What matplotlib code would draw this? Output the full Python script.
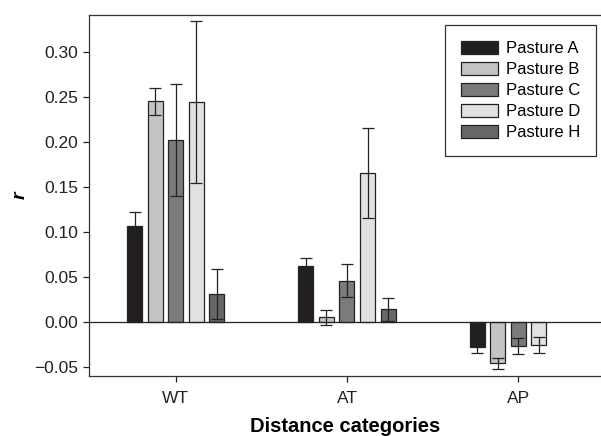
import matplotlib
matplotlib.use('Agg')
import matplotlib.pyplot as plt
import numpy as np

plt.rcParams['font.family'] = ['Liberation Sans', 'DejaVu Sans']

categories = ['WT', 'AT', 'AP']
pastures = ['Pasture A', 'Pasture B', 'Pasture C', 'Pasture D', 'Pasture H']
colors = ['#231f20', '#c4c4c4', '#7a7b7d', '#e0e1e2', '#666668']

# mean r per pasture, for WT / AT / AP (nan = no bar)
means = {
    'Pasture A': [0.107, 0.062, -0.028],
    'Pasture B': [0.245, 0.005, -0.046],
    'Pasture C': [0.202, 0.046, -0.027],
    'Pasture D': [0.244, 0.166, -0.026],
    'Pasture H': [0.031, 0.014, np.nan],
}
errors = {
    'Pasture A': [0.015, 0.009, 0.006],
    'Pasture B': [0.015, 0.008, 0.0065],
    'Pasture C': [0.062, 0.018, 0.009],
    'Pasture D': [0.090, 0.050, 0.009],
    'Pasture H': [0.028, 0.013, np.nan],
}

fig = plt.figure(figsize=(6.01, 4.36), dpi=100)
ax = fig.add_axes([89 / 601, 1 - 376 / 436, 1 - 89 / 601, (376 - 15) / 436])

x = np.arange(len(categories))
pitch = 0.12
width = 0.0875
for i, p in enumerate(pastures):
    xs = x + (i - 2) * pitch
    ax.bar(xs, means[p], width=width, color=colors[i], edgecolor='#222222',
           linewidth=0.9, label=p, zorder=2)
    ax.errorbar(xs, means[p], yerr=errors[p], fmt='none', ecolor='#222222',
                elinewidth=0.9, capsize=4, capthick=0.9, zorder=3)

ax.axhline(0, color='#222222', linewidth=0.9, zorder=4)

ax.set_xlim(-0.506, 2.483)
ax.set_ylim(-0.06, 0.341)
ax.set_yticks([-0.05, 0, 0.05, 0.10, 0.15, 0.20, 0.25, 0.30])
ax.set_yticklabels(['\u22120.05', '0.00', '0.05', '0.10', '0.15', '0.20', '0.25', '0.30'])
ax.set_xticks(x)
ax.set_xticklabels(categories)
ax.tick_params(axis='both', labelsize=12.5, colors='#222222', length=4, width=0.9)
ax.tick_params(axis='x', pad=7)

for s in ['left', 'bottom', 'top']:
    ax.spines[s].set_color('#333333')
    ax.spines[s].set_linewidth(0.9)
ax.spines['right'].set_visible(False)

ax.set_xlabel('Distance categories', fontsize=14.5, fontweight='bold', labelpad=8)
ax.set_ylabel('r', fontsize=14, fontweight='bold', style='italic', labelpad=4)

leg = ax.legend(loc='upper right', bbox_to_anchor=(596 / 601, 1 - 25 / 436),
                bbox_transform=fig.transFigure, borderaxespad=0, fontsize=12,
                fancybox=False, framealpha=1, edgecolor='#333333',
                handlelength=2.2, handleheight=0.8, labelspacing=0.35,
                borderpad=0.95, handletextpad=0.5)
leg.get_frame().set_linewidth(0.9)

fig.savefig('out.png', dpi=100)
